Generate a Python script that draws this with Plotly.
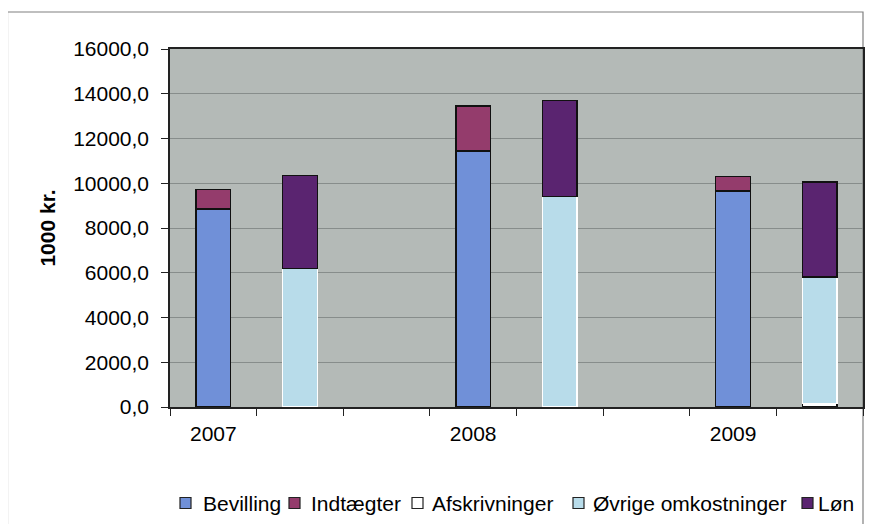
import plotly.graph_objects as go

years = ["2007", "2008", "2009"]
bevilling = [8850, 11450, 9650]
indtaegter = [870, 2000, 650]
afskrivninger = [0, 0, 150]
ovrige = [6200, 9400, 5650]
loen = [4150, 4300, 4250]

series_names = ["Bevilling", "Indtægter", "Afskrivninger", "Øvrige omkostninger", "Løn"]
series_colors = ["#7090d8", "#943c6c", "#ffffff", "#b8dcea", "#5a2470"]
series_lines = ["#111111", "#111111", "#111111", "#ffffff", "#111111"]

# category slots: income bar, cost bar, gap per year
cats = []
income_slot = []
cost_slot = []
for i, y in enumerate(years):
    income_slot.append(y)
    cs = " " * (2 * i + 1)
    cost_slot.append(cs)
    cats += [y, cs]
    if i < len(years) - 1:
        cats.append(" " * (2 * i + 2))

W, H = 866, 516
L, R, T, B = 162, 11, 41, 117
PW, PH = W - L - R, H - T - B

def px(xf):  # figure px -> paper x
    return (xf - L) / PW

def py(yf):  # figure px (from top) -> paper y
    return 1 - (yf - T) / PH

FS = 21
font = dict(family="Liberation Sans, Arial, sans-serif", size=FS, color="#000")

fig = go.Figure()
data = [bevilling, indtaegter, afskrivninger, ovrige, loen]
slots = [income_slot, income_slot, cost_slot, cost_slot, cost_slot]
for name, vals, xs, col, lc in zip(series_names, data, slots, series_colors, series_lines):
    fig.add_trace(go.Bar(name=name, x=xs, y=vals, width=0.4, showlegend=False,
                         marker=dict(color=col, line=dict(color=lc, width=1.5))))

# custom legend (page coords minus 8px body margin)
sq_x = [180, 289, 412, 573, 802]
tx_x = [201, 309, 430, 591, 816]
shapes = [dict(type="rect", xref="paper", yref="paper", x0=px(-0.5), x1=px(863 - 8), y0=-0.6, y1=py(12 - 8),
               line=dict(color="#808080", width=1.2), fillcolor="rgba(0,0,0,0)", layer="below")]
annotations = []
ly = 503 - 8
for sx, tx, name, col in zip(sq_x, tx_x, series_names, series_colors):
    shapes.append(dict(type="rect", xref="paper", yref="paper",
                       x0=px(sx - 8), x1=px(sx - 8 + 11), y0=py(ly + 5.5), y1=py(ly - 5.5),
                       line=dict(color="#222", width=1.2), fillcolor=col))
    annotations.append(dict(text=name, xref="paper", yref="paper", x=px(tx - 8), y=py(ly),
                            xanchor="left", yanchor="middle", showarrow=False, font=font))

fig.update_layout(
    barmode="stack",
    width=W, height=H,
    margin=dict(l=L, r=R, t=T, b=B, autoexpand=False),
    paper_bgcolor="white",
    plot_bgcolor="#b4bab7",
    separators=",.",
    font=font,
    showlegend=False,
    shapes=shapes,
    annotations=annotations,
)
fig.update_xaxes(type="category", categoryorder="array", categoryarray=cats,
                 tickson="boundaries", ticks="outside", ticklen=7, tickcolor="#222",
                 showline=True, linecolor="#222", linewidth=1.5, mirror=True,
                 showgrid=False, tickfont=font, range=[-0.5, len(cats) - 0.5],
                 ticklabelstandoff=7, automargin=False)
fig.update_yaxes(range=[0, 16000], dtick=2000, tickformat=".1f", ticks="outside", ticklen=7,
                 tickcolor="#222", showline=True, linecolor="#222", linewidth=1.5, mirror=True,
                 gridcolor="#878d8b", gridwidth=1.2, zeroline=False, automargin=False,
                 ticklabelstandoff=8,
                 title=dict(text="<b>1000 kr.</b>", font=font, standoff=12),
                 tickfont=font)

fig.write_html("out.html")
